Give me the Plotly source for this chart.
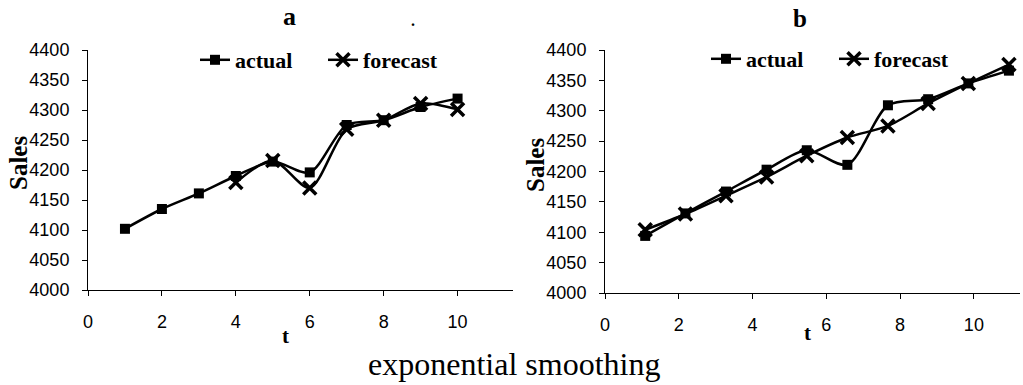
import plotly.graph_objects as go

W, H = 1023, 385

# ---- data ----
t_a = [1, 2, 3, 4, 5, 6, 7, 8, 9, 10]
actual_a = [4102, 4135, 4161, 4190, 4214, 4196, 4275, 4283, 4305, 4319]
t_a_fc = [4, 5, 6, 7, 8, 9, 10]
forecast_a = [4179, 4216, 4170, 4268, 4283, 4311, 4301]

t_b = [1.09, 2.18, 3.28, 4.38, 5.47, 6.57, 7.67, 8.76, 9.85, 10.95]
actual_b = [4094, 4131, 4167, 4203, 4235, 4211, 4309, 4319, 4345, 4366]
forecast_b = [4104, 4130, 4160, 4191, 4226, 4256, 4275, 4312, 4345, 4376]

x_ticks = [0, 2, 4, 6, 8, 10]
y_ticks = [4000, 4050, 4100, 4150, 4200, 4250, 4300, 4350, 4400]

SERIF = "Liberation Serif, Times New Roman, serif"
SANS = "Liberation Sans, Arial, sans-serif"


def px_x(p):
    return p / W


def px_y(p):
    return 1 - p / H


fig = go.Figure()


def add_pair(t, act, t_fc, fc, xa, ya, legend, showlegend=True):
    fig.add_trace(go.Scatter(
        x=t, y=act, name="actual", mode="lines+markers",
        line=dict(color="black", width=2.5, shape="spline", smoothing=0.8),
        marker=dict(symbol="square", size=10, color="black"),
        xaxis=xa, yaxis=ya, legend=legend, showlegend=showlegend))
    fig.add_trace(go.Scatter(
        x=t_fc, y=fc, name="forecast", mode="lines+markers",
        line=dict(color="black", width=2.5, shape="spline", smoothing=0.8),
        marker=dict(symbol="x-thin", size=13, color="black",
                    line=dict(color="black", width=3.5)),
        xaxis=xa, yaxis=ya, legend=legend, showlegend=showlegend))


add_pair(t_a, actual_a, t_a_fc, forecast_a, "x", "y", "legend")
add_pair(t_b, actual_b, t_b, forecast_b, "x2", "y2", "legend2")

axis_common = dict(
    showgrid=False, zeroline=False, showline=True, linecolor="black",
    linewidth=1, ticks="outside", ticklen=5, tickcolor="black",
    tickfont=dict(family=SANS, size=18, color="black"),
    automargin=False,
)

legend_font = dict(family=SERIF, size=22, color="black", weight="bold")

fig.update_layout(
    width=W, height=H,
    margin=dict(l=0, r=0, t=0, b=0, pad=0),
    paper_bgcolor="white", plot_bgcolor="white",
    xaxis=dict(domain=[px_x(88), px_x(513)], range=[0, 11.5],
               tickvals=x_ticks, anchor="y", ticklabelstandoff=10, **axis_common),
    yaxis=dict(domain=[px_y(290), px_y(50)], range=[4000, 4400],
               tickvals=y_ticks, anchor="x", ticklabelstandoff=9, **axis_common),
    xaxis2=dict(domain=[px_x(605), px_x(1020)], range=[0, 11.25],
                tickvals=x_ticks, anchor="y2", ticklabelstandoff=10, **axis_common),
    yaxis2=dict(domain=[px_y(293), px_y(50)], range=[4000, 4400],
                tickvals=y_ticks, anchor="x2", ticklabelstandoff=9, **axis_common),
    legend=dict(orientation="h", x=px_x(195), y=px_y(60), xanchor="left",
                yanchor="middle", bgcolor="rgba(0,0,0,0)", entrywidth=83,
                font=legend_font),
    legend2=dict(orientation="h", x=px_x(706), y=px_y(59), xanchor="left",
                 yanchor="middle", bgcolor="rgba(0,0,0,0)", entrywidth=83,
                 font=legend_font),
)

ann = []


def text(s, x, y, size, bold=True, angle=0):
    ann.append(dict(text=s, x=px_x(x), y=px_y(y), xref="paper", yref="paper",
                    showarrow=False, xanchor="center", yanchor="middle",
                    textangle=angle,
                    font=dict(family=SERIF, size=size, color="black",
                              weight="bold" if bold else "normal")))


text("a", 289, 16, 26)
text(".", 413, 20, 16)
text("b", 800, 18, 25)
text("Sales", 18, 163, 25, angle=-90)
text("Sales", 535, 165, 25, angle=-90)
text("t", 285, 336, 21)
text("t", 807, 333, 21)
text("exponential smoothing", 514, 364, 32, bold=False)

fig.update_layout(annotations=ann)

fig.write_html("out.html")
